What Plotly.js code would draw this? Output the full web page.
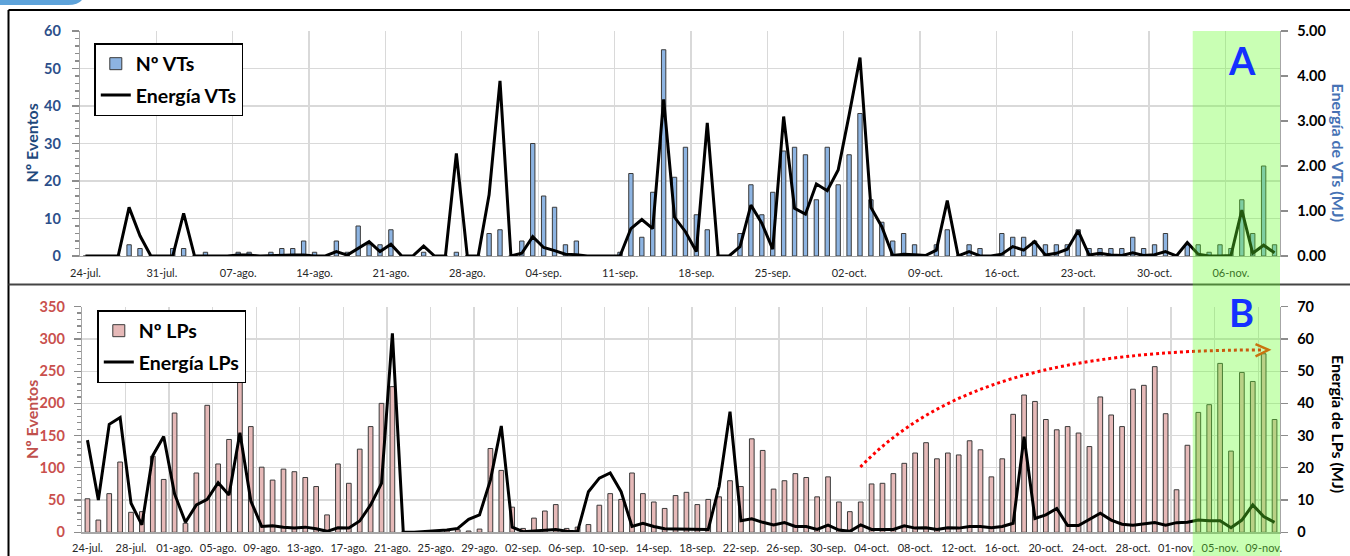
<!DOCTYPE html>
<html>
<head>
<meta charset="utf-8">
<script src="https://cdn.plot.ly/plotly-3.0.1.min.js"></script>
<style>
html,body{margin:0;padding:0;background:#fff;}
#chart{width:1350px;height:556px;}
</style>
</head>
<body>
<div id="chart"></div>
<script>
// ---- Data (one value per day, 24-jul. .. 10-nov.) ----
const VT_COUNT = [0,0,0,0,3,2,0,0,2,2, 0,1,0,0,1,1,0,1,2,2, 4,1,0,4,1,8,3,3,7,0,
  0,1,0,0,1,0,0,6,7,0, 4,30,16,13,3,4,0,0,0,1, 22,5,17,55,21,29,11,7,0,0,
  6,19,11,17,28,29,27,15,29,19, 27,38,15,9,4,6,3,0,3,7, 0,3,2,0,6,5,5,4,3,3,
  3,7,2,2,2,2,5,2,3,6, 0,3,3,1,3,2,15,6,24,3];
const VT_ENERGY = [0,0,0,0,1.08,0.45,0,0,0,0.95, 0,0,0,0,0.02,0.02,0,0.01,0.02,0.02,
  0.02,0,0,0.1,0.02,0.17,0.32,0.1,0.26,0, 0,0.22,0,0,2.28,0,0,1.36,3.89,0,
  0.06,0.43,0.19,0.12,0.04,0.03,0,0,0,0, 0.61,0.81,0.61,3.48,0.86,0.54,0.1,2.96,0,0,
  0.21,1.13,0.73,0.15,3.1,1.06,0.93,1.6,1.45,1.91, 3.13,4.41,1.08,0.65,0.01,0.04,0.03,0.01,0.13,1.23,
  0,0.1,0,0,0.04,0.21,0.13,0.32,0.02,0.06, 0.15,0.56,0.02,0.06,0.02,0.01,0.07,0.01,0.03,0.1,
  0,0.3,0.04,0,0,0.01,1.02,0.06,0.24,0.07];
const LP_COUNT = [52,19,60,109,31,32,118,82,185,14, 92,197,106,144,240,164,101,81,98,94,
  85,71,27,106,76,129,164,200,226,0, 0,0,0,3,4,2,5,130,96,39,
  6,22,33,43,6,8,12,42,60,51, 92,60,47,37,57,62,43,51,55,80,
  71,145,127,67,80,91,85,55,86,47, 32,47,75,76,91,107,123,139,114,123,
  120,142,128,86,114,183,213,203,175,159, 164,154,133,210,182,164,222,228,257,184,
  66,135,186,198,262,126,248,234,277,175];
const LP_ENERGY = [28.6,10.0,33.5,35.6,9.0,2.3,23.8,29.7,11.9,3.1, 8.5,10.2,15.4,11.6,30.9,9.8,1.8,2.0,1.6,1.3,
  1.6,1.1,0.3,1.4,1.3,3.5,8.5,15.2,61.7,0, 0,0.2,0.5,0.7,1.2,4.0,5.4,16.2,33.0,1.6,
  0.2,0.5,0.7,0.9,0.3,0.2,12.6,16.8,18.4,12.6, 1.8,2.8,1.8,1.1,1.0,0.9,0.9,0.9,14.2,37.4,
  3.6,4.2,3.1,2.3,3.0,1.8,1.8,0.9,2.2,0.7, 0.3,2.3,0.9,0.9,0.9,2.0,1.3,1.4,0.9,1.4,
  1.3,1.8,1.8,1.4,1.8,2.8,29.7,4.3,5.4,7.4, 2.1,2.1,4.0,5.9,3.8,2.5,2.2,2.5,3.0,2.2,
  3.0,3.1,3.8,3.6,3.6,1.4,3.8,8.5,4.9,3.1];
const TOP_TICKS = ['24-jul.','31-jul.','07-ago.','14-ago.','21-ago.','28-ago.','04-sep.','11-sep.',
  '18-sep.','25-sep.','02-oct.','09-oct.','16-oct.','23-oct.','30-oct.','06-nov.'];
const BOTTOM_TICKS = ['24-jul.','28-jul.','01-ago.','05-ago.','09-ago.','13-ago.','17-ago.','21-ago.',
  '25-ago.','29-ago.','02-sep.','06-sep.','10-sep.','14-sep.','18-sep.','22-sep.','26-sep.','30-sep.',
  '04-oct.','08-oct.','12-oct.','16-oct.','20-oct.','24-oct.','28-oct.','01-nov.','05-nov.','09-nov.'];

// ---- Layout helpers ----
const W = 1350, H = 556;
const px = v => v / W;
const py = v => 1 - v / H;
const days = VT_COUNT.map((_, i) => i);
const topTickPos = TOP_TICKS.map((_, k) => 7 * k);
const botTickPos = BOTTOM_TICKS.map((_, k) => 4 * k);
const topGrid = TOP_TICKS.map((_, k) => 7 * k - 0.5);
const botGrid = BOTTOM_TICKS.map((_, k) => 4 * k - 0.5);
const FONT = 'Lato, "Open Sans", sans-serif';
const GRID = '#d9d9d9', AXL = '#a6a6a6', TICKC = '#8c8c8c';

const traces = [
  {type:'bar', name:'Nº VTs', x:days, y:VT_COUNT, xaxis:'x', yaxis:'y', width:0.4,
   marker:{color:'#8db4e2', line:{color:'#3a3a3a', width:1}}, legend:'legend', legendgroup:'a'},
  {type:'scatter', mode:'lines', name:'Energía VTs', x:days, y:VT_ENERGY, xaxis:'x', yaxis:'y2',
   line:{color:'#000', width:3}, legend:'legend', legendgroup:'b'},
  {type:'bar', name:'Nº LPs', x:days, y:LP_COUNT, xaxis:'x2', yaxis:'y3', width:0.43,
   marker:{color:'#e6b9b8', line:{color:'#3a3a3a', width:1}}, legend:'legend2', legendgroup:'c'},
  {type:'scatter', mode:'lines', name:'Energía LPs', x:days, y:LP_ENERGY, xaxis:'x2', yaxis:'y4',
   line:{color:'#000', width:3}, legend:'legend2', legendgroup:'d'}
];

const xCommon = {range:[-0.5,109.5], tickmode:'array', showgrid:false, ticks:'', showline:true,
  linecolor:AXL, linewidth:1.3, zeroline:false, fixedrange:true};
const yLeftCommon = {ticks:'outside', ticklen:7, tickcolor:TICKC, tickwidth:1.3, showline:true,
  linecolor:AXL, linewidth:1.3, gridcolor:GRID, gridwidth:1.3, zeroline:false};
const yRightCommon = {side:'right', ticks:'outside', ticklen:7, tickcolor:TICKC, tickwidth:1.3,
  showline:true, linecolor:AXL, linewidth:1.3, showgrid:false, zeroline:false,
  tickfont:{family:FONT, size:14.5, weight:'bold', color:'#000'}, ticklabelstandoff:6};

const legendCommon = {xanchor:'left', yanchor:'top', bgcolor:'#fff', bordercolor:'#000',
  borderwidth:1.5, font:{family:FONT, size:19.5, weight:'bold', color:'#000'}, tracegroupgap:3, itemwidth:30};

const ann = (text, x, y, angle, size, color) => ({text, xref:'paper', yref:'paper', x:px(x), y:py(y),
  xanchor:'center', yanchor:'middle', textangle:angle, showarrow:false,
  font:{family:FONT, size, weight:'bold', color}});

const layout = {
  width:W, height:H, margin:{l:0,r:0,t:0,b:0}, paper_bgcolor:'#fff', plot_bgcolor:'rgba(0,0,0,0)',
  font:{family:FONT, color:'#262626'}, showlegend:true, bargap:0,
  xaxis: Object.assign({}, xCommon, {domain:[px(80), px(1280)], anchor:'y',
    tickvals:topTickPos, ticktext:TOP_TICKS, tickfont:{family:FONT, size:11, color:'#262626'},
    ticklabelstandoff:6,
    minor:{tickmode:'array', tickvals:topGrid, showgrid:true, gridcolor:GRID, gridwidth:1.3, ticks:''}}),
  xaxis2: Object.assign({}, xCommon, {domain:[px(82), px(1280)], anchor:'y3',
    tickvals:botTickPos, ticktext:BOTTOM_TICKS, tickfont:{family:FONT, size:11, color:'#262626'},
    ticklabelstandoff:5,
    minor:{tickmode:'array', tickvals:botGrid, showgrid:true, gridcolor:GRID, gridwidth:1.3, ticks:''}}),
  yaxis: Object.assign({}, yLeftCommon, {domain:[py(256), py(31)], anchor:'x', range:[0,60], dtick:10, tick0:0,
    tickfont:{family:FONT, size:14.5, weight:'bold', color:'#2c4f8a'}, ticklabelstandoff:8,
    minor:{dtick:2, ticks:'outside', ticklen:4, tickcolor:TICKC, showgrid:false}}),
  yaxis2: Object.assign({}, yRightCommon, {overlaying:'y', anchor:'x', range:[0,5], dtick:1, tick0:0, tickformat:'.2f'}),
  yaxis3: Object.assign({}, yLeftCommon, {domain:[py(532.3), py(306.7)], anchor:'x2', range:[0,350], dtick:50, tick0:0,
    tickfont:{family:FONT, size:14.5, weight:'bold', color:'#c9504d'}, ticklabelstandoff:6,
    minor:{dtick:10, ticks:'outside', ticklen:4, tickcolor:TICKC, showgrid:false}}),
  yaxis4: Object.assign({}, yRightCommon, {overlaying:'y3', anchor:'x2', range:[0,70], dtick:10, tick0:0}),
  legend: Object.assign({}, legendCommon, {x:px(94.3), y:py(43)}),
  legend2: Object.assign({}, legendCommon, {x:px(97.3), y:py(310)}),
  shapes:[
    // outer frame and divider
    {type:'line', xref:'paper', yref:'paper', x0:px(8.5), x1:1, y0:py(10), y1:py(10), line:{color:'#000', width:2}, layer:'above'},
    {type:'line', xref:'paper', yref:'paper', x0:px(8.5), x1:px(8.5), y0:py(10), y1:0, line:{color:'#000', width:2}, layer:'above'},
    {type:'line', xref:'paper', yref:'paper', x0:px(8.5), x1:1, y0:py(284.5), y1:py(284.5), line:{color:'#454545', width:2}, layer:'above'},
    // tab at top-left
    {type:'path', xref:'paper', yref:'paper', layer:'above', line:{width:0}, fillcolor:'#5ea3da',
     path:`M 0,1 L ${px(82)},1 Q ${px(78)},${py(5)} ${px(68)},${py(5)} L 0,${py(5)} Z`},
    // red dotted trend arrow
    {type:'path', xref:'x2', yref:'y3', layer:'above', line:{color:'#ff0000', width:3, dash:'dot'},
     path:'M 70.97,101.3 C 78.3,228.8 89.3,283 107.9,283'},
    {type:'path', xref:'x2', yref:'y3', layer:'above', line:{color:'#ff2a00', width:2.5},
     path:'M 107.25,292 L 108.45,283 L 107.25,273'},
    // green highlighted window
    {type:'rect', xref:'x', yref:'paper', x0:101.5, x1:109.5, y0:0, y1:py(31), layer:'above',
     fillcolor:'rgb(100,255,40)', opacity:0.35, line:{width:0}}
  ],
  annotations:[
    ann('Nº Eventos', 31, 143.5, -90, 16, '#1f497d'),
    ann('Energía de VTs (MJ)', 1338, 152.5, 90, 16, '#4672b4'),
    ann('Nº Eventos', 31, 420, -90, 16, '#c0504d'),
    ann('Energía de LPs (MJ)', 1339, 424, 90, 16, '#000'),
    ann('A', 1241.5, 60, 0, 38, '#1430ff'),
    ann('B', 1241.5, 312, 0, 38, '#1430ff')
  ]
};

Plotly.newPlot('chart', traces, layout, {displayModeBar:false, staticPlot:true});
</script>
</body>
</html>
